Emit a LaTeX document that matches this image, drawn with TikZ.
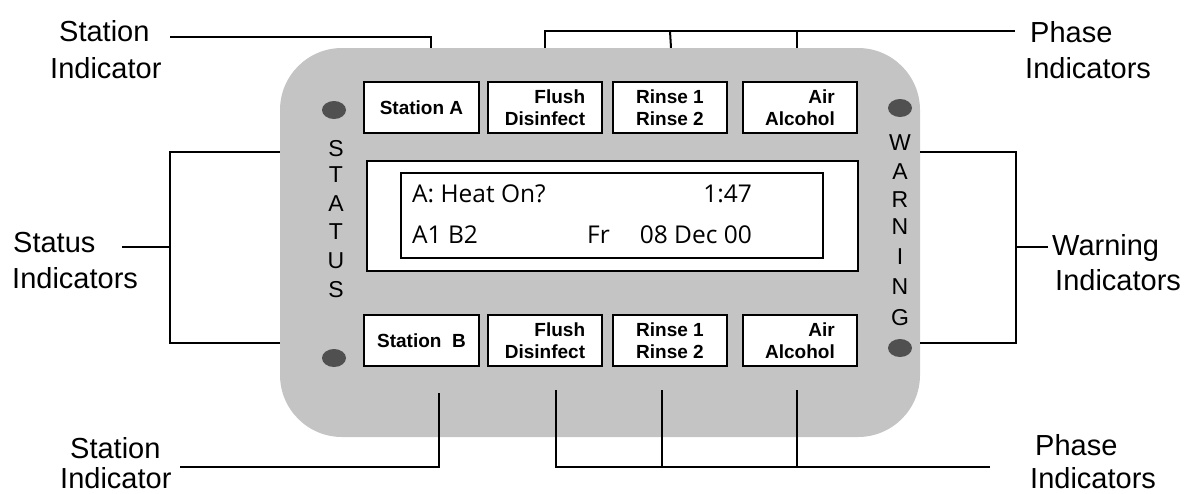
\documentclass[tikz,border=0pt]{standalone}
\usepackage{fontspec}
\setmainfont{Liberation Sans}
\newfontfamily\lcdfont{Open Sans}
\usetikzlibrary{calc,shapes.geometric}
\definecolor{panelgray}{RGB}{196,196,196}
\definecolor{ledgray}{RGB}{80,80,80}
\begin{document}
\begin{tikzpicture}[x=1pt,y=-1pt,
  panelbox/.style={fill=panelgray,draw=none,rounded corners=62pt,minimum width=640pt,minimum height=389pt,inner sep=0pt},
  btn/.style={draw=black,line width=2.4pt,fill=white,minimum width=114pt,minimum height=51pt,inner sep=0pt,align=right,font=\bfseries\fontsize{19}{21.5}\selectfont},
  lcdbox/.style={draw=black,fill=white,inner sep=0pt},
  lcdtxt/.style={font=\lcdfont\fontsize{24.5}{24.5}\selectfont,inner sep=0pt,anchor=base west},
  lbl/.style={font=\fontsize{29}{35}\selectfont,inner sep=0pt,anchor=base west},
  ltr/.style={font=\fontsize{23}{23}\selectfont,inner sep=0pt},
  led/.style={fill=ledgray,draw=none,ellipse,minimum width=24pt,minimum height=18pt,inner sep=0pt},
  conn/.style={draw=black,line width=2pt}]
\useasboundingbox (0,0) rectangle (1188,493);
% panel
\node[panelbox] (panel) at (600,242.5) {};
% display
\node[lcdbox,line width=2.6pt,minimum width=491pt,minimum height=110pt] (lcdout) at (612.5,216) {};
\node[lcdbox,line width=2pt,minimum width=422pt,minimum height=85pt] (lcdin) at (612,215.5) {};
\node[lcdtxt] (t1) at (412,202) {A: Heat On?};
\node[lcdtxt,anchor=base east] (t2) at (752,202) {1:47};
\node[lcdtxt] (t3) at (412,243) {A1 B2};
\node[lcdtxt] (t4) at (587,243) {Fr};
\node[lcdtxt,anchor=base east] (t5) at (752,243) {08 Dec 00};
% buttons top
\node[btn,minimum width=115pt] (stA) at (421.5,107.5) {Station A};
\node[btn] (fdA) at (545,107.5) {Flush\\Disinfect};
\node[btn] (rrA) at (670,107.5) {Rinse 1\\Rinse 2};
\node[btn] (aaA) at (800,107.5) {Air\\Alcohol};
% buttons bottom
\node[btn,minimum width=115pt] (stB) at (421.5,340.5) {Station\ \ B};
\node[btn] (fdB) at (545,340.5) {Flush\\Disinfect};
\node[btn] (rrB) at (670,340.5) {Rinse 1\\Rinse 2};
\node[btn] (aaB) at (800,340.5) {Air\\Alcohol};
% LEDs
\node[led] (ledSt) at (334,110) {};
\node[led] (ledSb) at (334,358) {};
\node[led] (ledWt) at (900,108) {};
\node[led] (ledWb) at (900,348) {};
% vertical letters
\foreach \l/\yy [count=\i] in {S/149,T/175,A/204,T/232,U/261,S/290}
  \node[ltr] (s\i) at (336,\yy) {\l};
\foreach \l/\yy [count=\i] in {W/143,A/172,R/200,N/227,I/257,N/287,G/318}
  \node[ltr] (w\i) at (900,\yy) {\l};
% labels
\node[lbl] (lSTa) at (59,41) {Station};
\node[lbl] (lSTb) at (50,78) {Indicator};
\node[lbl] (lPTa) at (1030,42) {Phase};
\node[lbl] (lPTb) at (1025,78) {Indicators};
\node[lbl] (lSSa) at (13,252) {Status};
\node[lbl] (lSSb) at (12,288) {Indicators};
\node[lbl] (lWIa) at (1052,255) {Warning};
\node[lbl] (lWIb) at (1055,290) {Indicators};
\node[lbl] (lSBa) at (70,458) {Station};
\node[lbl] (lSBb) at (60,488) {Indicator};
\node[lbl] (lPBa) at (1035,455) {Phase};
\node[lbl] (lPBb) at (1030,488) {Indicators};
% connector anchor coordinates
\coordinate (cST) at (170,37);
\coordinate (cPT) at (1015,31);
\coordinate (cSS) at (122,247);
\coordinate (cSSv) at (170,247);
\coordinate (cWI) at (1048,247);
\coordinate (cWIv) at (1016,247);
\coordinate (cSB) at (180,467);
\coordinate (cPB) at (990,467);
% connectors top
\draw[conn] (cST) -| ([xshift=9.5pt]stA.north |- panel.north);
\draw[conn] (cPT) -- (fdA.north |- cPT) -- (fdA.north |- panel.north);
\draw[conn] (rrA.north |- cPT) -- ([xshift=1pt]rrA.north |- panel.north);
\draw[conn] ([xshift=-3pt]aaA.north |- cPT) -- ([xshift=-3pt]aaA.north |- panel.north);
% status bracket
\draw[conn] (cSS) -- (cSSv);
\draw[conn] (panel.west |- 0,152) -| (cSSv) |- (panel.west |- 0,343);
% warning bracket
\draw[conn] (cWI) -- (cWIv);
\draw[conn] (panel.east |- 0,152) -| (cWIv) |- (panel.east |- 0,343);
% bottom connectors
\draw[conn] (cSB) -| ([xshift=17.5pt]stB.south |- 0,393);
\draw[conn] (cPB) -| ([xshift=11pt]fdB.south |- 0,390);
\draw[conn] ([xshift=-8pt]rrB.south |- cPB) -- ([xshift=-8pt]rrB.south |- 0,390);
\draw[conn] ([xshift=-3pt]aaB.south |- cPB) -- ([xshift=-3pt]aaB.south |- 0,390);
\end{tikzpicture}
\end{document}
